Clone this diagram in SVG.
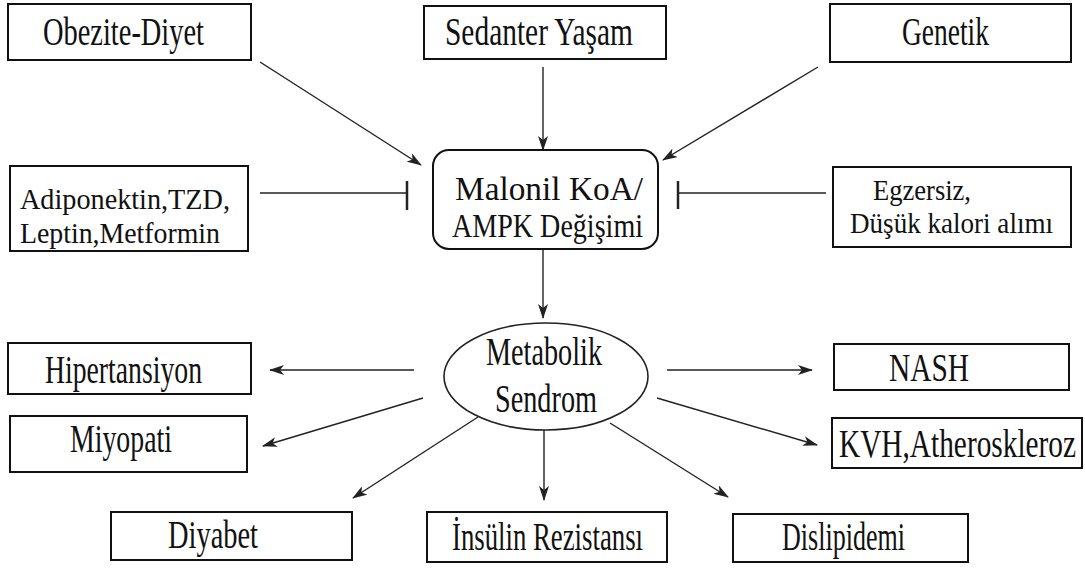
<svg xmlns="http://www.w3.org/2000/svg" width="1085" height="570" viewBox="0 0 1085 570">
<style>
.box{fill:#fff;stroke:#111;stroke-width:2}
.t{font-family:'Liberation Serif','Times New Roman',serif;font-size:29px;fill:#111}
.c{stroke:#222;stroke-width:1.4;fill:none}
.a{marker-end:url(#ah)}
.bar{stroke:#222;stroke-width:2.5}
</style>
<defs>
<marker id="ah" markerWidth="15" markerHeight="10" refX="14" refY="5" orient="auto" markerUnits="userSpaceOnUse">
<path d="M0,0 L15,5 L0,10 L4,5 z" fill="#222"/>
</marker>
</defs>
<rect width="1085" height="570" fill="#fff"/>
<g id="connectors">
<line class="c a" x1="260" y1="62" x2="421" y2="165"/>
<line class="c a" x1="543" y1="67" x2="543" y2="150"/>
<line class="c a" x1="818" y1="67" x2="663" y2="160"/>
<line class="c" x1="260" y1="193" x2="407" y2="193"/>
<line class="bar" x1="407" y1="181" x2="407" y2="210"/>
<line class="c" x1="826" y1="193" x2="678" y2="193"/>
<line class="bar" x1="678" y1="181" x2="678" y2="209"/>
<line class="c a" x1="543" y1="249" x2="543" y2="318"/>
<line class="c a" x1="414" y1="370" x2="270" y2="370"/>
<line class="c a" x1="423" y1="398" x2="263" y2="446"/>
<line class="c a" x1="478" y1="417" x2="353" y2="498"/>
<line class="c a" x1="544" y1="430" x2="544" y2="500"/>
<line class="c a" x1="610" y1="423" x2="728" y2="497"/>
<line class="c a" x1="657" y1="398" x2="817" y2="445"/>
<line class="c a" x1="667" y1="370" x2="812" y2="370"/>
</g>
<g id="obezite">
<rect class="box" x="8" y="4" width="243" height="56"/>
<text class="t" transform="translate(43,45) scale(1,1.35)" textLength="161" lengthAdjust="spacingAndGlyphs">Obezite-Diyet</text>
</g>
<g id="sedanter">
<rect class="box" x="424" y="6" width="242" height="53"/>
<text class="t" transform="translate(445,45) scale(1,1.35)" textLength="188" lengthAdjust="spacingAndGlyphs">Sedanter Yaşam</text>
</g>
<g id="genetik">
<rect class="box" x="830" y="4" width="241" height="58"/>
<text class="t" transform="translate(902,45) scale(1,1.35)" textLength="87" lengthAdjust="spacingAndGlyphs">Genetik</text>
</g>
<g id="adiponektin">
<rect class="box" x="10" y="166" width="238" height="85"/>
<text class="t" transform="translate(20,209) scale(1,1.04)"><tspan x="0" y="0" textLength="210" lengthAdjust="spacingAndGlyphs">Adiponektin,TZD,</tspan><tspan x="0" dy="32.7" textLength="200" lengthAdjust="spacingAndGlyphs">Leptin,Metformin</tspan></text>
</g>
<g id="malonil">
<rect class="box" x="433" y="150" width="225" height="99" rx="16" ry="16"/>
<text class="t" transform="translate(455,200) scale(1,1.15)"><tspan x="0" y="0" textLength="188" lengthAdjust="spacingAndGlyphs">Malonil KoA/</tspan><tspan x="-3" dy="32.2" textLength="191" lengthAdjust="spacingAndGlyphs">AMPK Değişimi</tspan></text>
</g>
<g id="egzersiz">
<rect class="box" x="833" y="167" width="238" height="80"/>
<text class="t" transform="translate(873,200) scale(1,1.04)"><tspan x="0" y="0" textLength="98" lengthAdjust="spacingAndGlyphs">Egzersiz,</tspan><tspan x="-23" dy="32.2" textLength="203" lengthAdjust="spacingAndGlyphs">Düşük kalori alımı</tspan></text>
</g>
<g id="metabolik">
<ellipse cx="546" cy="376.5" rx="102" ry="53.5" fill="#fff" stroke="#222" stroke-width="1.6"/>
<text class="t" transform="translate(486,365) scale(1,1.35)"><tspan x="0" y="0" textLength="116" lengthAdjust="spacingAndGlyphs">Metabolik</tspan><tspan x="9" dy="34.8" textLength="102" lengthAdjust="spacingAndGlyphs">Sendrom</tspan></text>
</g>
<g id="hipertansiyon">
<rect class="box" x="8" y="343" width="243" height="51"/>
<text class="t" transform="translate(45,383) scale(1,1.35)" textLength="157" lengthAdjust="spacingAndGlyphs">Hipertansiyon</text>
</g>
<g id="miyopati">
<rect class="box" x="10" y="416" width="237" height="56"/>
<text class="t" transform="translate(70,452) scale(1,1.35)" textLength="102" lengthAdjust="spacingAndGlyphs">Miyopati</text>
</g>
<g id="diyabet">
<rect class="box" x="111" y="512" width="241" height="48"/>
<text class="t" transform="translate(168,548) scale(1,1.35)" textLength="90" lengthAdjust="spacingAndGlyphs">Diyabet</text>
</g>
<g id="insulin">
<rect class="box" x="427" y="512" width="240" height="50"/>
<text class="t" transform="translate(452,550) scale(1,1.35)" textLength="191" lengthAdjust="spacingAndGlyphs">İnsülin Rezistansı</text>
</g>
<g id="dislipidemi">
<rect class="box" x="733" y="514" width="235" height="48"/>
<text class="t" transform="translate(782,550) scale(1,1.35)" textLength="123" lengthAdjust="spacingAndGlyphs">Dislipidemi</text>
</g>
<g id="nash">
<rect class="box" x="834" y="344" width="235" height="46"/>
<text class="t" transform="translate(889,381) scale(1,1.35)" textLength="80" lengthAdjust="spacingAndGlyphs">NASH</text>
</g>
<g id="kvh">
<rect class="box" x="832" y="418" width="250" height="50"/>
<text class="t" transform="translate(839,457) scale(1,1.35)" textLength="237" lengthAdjust="spacingAndGlyphs">KVH,Atheroskleroz</text>
</g>
</svg>
